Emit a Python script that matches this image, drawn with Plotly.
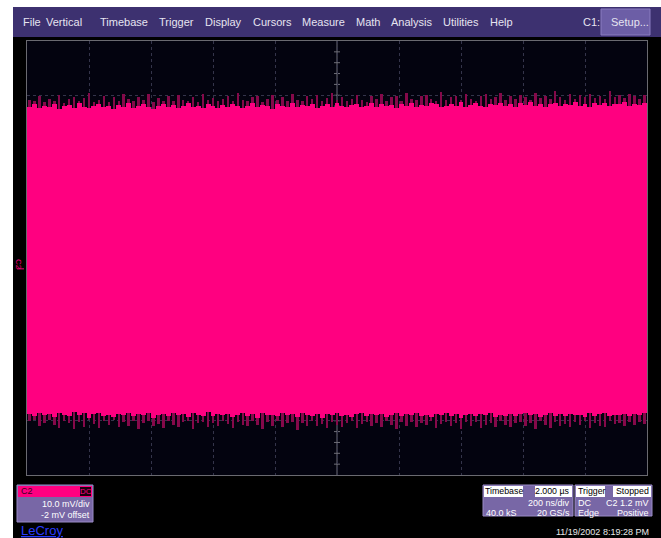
import plotly.graph_objects as go

# ---- acquisition: C2, 10 mV/div, -2 mV offset, 200 ns/div (2 us record) ----
COL_NS = 16  # time span covered by one display column

# bright (high-density) upper edge of the noise band, mV
top_core = [
    29.9, 30.3, 29.6, 30.1, 29.8, 30.4, 29.5, 30.0, 30.2, 29.7,
    30.5, 29.9, 29.6, 30.1, 30.3, 29.8, 30.0, 29.4, 30.2, 29.9,
    30.6, 29.7, 30.0, 30.3, 29.8, 29.5, 30.1, 30.4, 29.9, 30.2,
    29.6, 30.0, 30.5, 29.8, 30.1, 29.7, 30.3, 30.0, 29.6, 30.2,
    29.9, 30.4, 30.1, 29.7, 30.0, 30.6, 29.8, 30.2, 30.0, 29.5,
    30.3, 30.1, 29.9, 30.5, 29.8, 30.2, 30.0, 30.4, 29.7, 30.1,
    30.3, 29.9, 30.6, 30.0, 29.8, 30.2, 30.4, 29.9, 30.1, 30.5,
    29.8, 30.3, 30.0, 30.2, 29.7, 30.4, 30.1, 30.6, 29.9, 30.2,
    30.0, 30.5, 30.3, 29.8, 30.1, 30.4, 30.0, 30.7, 29.9, 30.2,
    30.5, 30.1, 29.8, 30.4, 30.2, 30.6, 30.0, 30.3, 29.9, 30.5,
    30.2, 30.7, 30.1, 30.4, 29.9, 30.3, 30.6, 30.0, 30.4, 30.2,
    30.8, 30.1, 30.3, 29.9, 30.5, 30.2, 30.6, 30.0, 30.4, 30.3,
    30.7, 30.1, 30.4, 30.2, 30.5,
]
# sparse positive peaks, mV
top_peak = [
    31.2, 30.9, 31.8, 30.7, 31.4, 31.0, 32.1, 30.6, 31.3, 31.7,
    30.9, 31.5, 32.4, 30.8, 31.1, 31.9, 30.7, 31.6, 31.0, 32.2,
    31.3, 30.9, 31.7, 31.1, 32.3, 30.8, 31.5, 31.0, 31.8, 30.9,
    32.0, 31.2, 31.0, 31.6, 30.8, 32.2, 31.1, 31.5, 30.9, 31.4,
    31.8, 31.0, 32.5, 31.2, 30.9, 31.6, 31.9, 30.8, 31.3, 32.0,
    31.1, 31.7, 30.9, 32.3, 31.2, 31.0, 31.8, 31.3, 32.1, 30.9,
    31.5, 32.4, 31.1, 31.7, 30.9, 31.4, 32.0, 31.2, 30.8, 31.9,
    31.3, 32.2, 31.0, 31.6, 31.9, 30.9, 32.4, 31.4, 31.1, 31.8,
    32.1, 31.3, 31.0, 32.6, 31.2, 31.7, 31.9, 31.1, 32.3, 31.4,
    31.0, 31.8, 32.2, 31.3, 31.6, 32.5, 31.1, 31.9, 31.4, 32.0,
    31.7, 31.2, 32.4, 31.5, 31.9, 31.3, 32.7, 31.6, 31.2, 32.2,
    31.4, 32.0, 31.7, 32.3, 31.5, 31.9, 31.4, 32.8, 31.6, 32.1,
    31.5, 32.3, 31.8, 31.4, 32.0,
]
# bright lower edge of the noise band, mV
bottom_core = [
    -26.8, -27.2, -26.5, -27.0, -26.7, -27.3, -26.6, -26.9, -27.1, -26.4,
    -27.0, -26.6, -27.4, -26.8, -26.5, -27.1, -26.9, -27.3, -26.7, -27.0,
    -26.5, -27.2, -26.8, -27.0, -26.6, -27.4, -26.9, -26.7, -27.1, -26.5,
    -27.0, -26.8, -27.3, -26.6, -26.9, -27.1, -26.4, -27.2, -26.8, -27.0,
    -26.7, -27.3, -26.9, -26.5, -27.1, -26.8, -27.4, -26.6, -27.0, -26.9,
    -27.2, -26.6, -27.0, -26.8, -27.3, -26.5, -26.9, -27.1, -26.7, -27.4,
    -26.8, -27.0, -26.6, -27.2, -26.9, -27.3, -26.7, -26.5, -27.1, -26.8,
    -27.0, -26.7, -27.3, -26.9, -26.6, -27.2, -26.8, -27.0, -26.5, -27.1,
    -26.9, -27.3, -26.7, -27.0, -26.6, -27.2, -26.8, -27.4, -26.9, -26.7,
    -27.1, -26.8, -27.0, -26.6, -27.3, -26.9, -27.1, -26.7, -27.2, -26.8,
    -26.6, -27.0, -26.8, -27.3, -26.9, -26.5, -27.1, -26.8, -27.2, -26.7,
    -27.0, -26.9, -27.3, -26.6, -27.1, -26.8, -26.5, -27.2, -26.9, -27.0,
    -26.7, -27.2, -26.8, -27.0, -26.6,
]
# sparse negative peaks, mV
bottom_peak = [
    -28.1, -27.8, -29.0, -28.4, -27.9, -28.7, -29.3, -28.0, -28.5, -29.6,
    -28.2, -29.1, -27.9, -28.6, -29.4, -28.0, -28.8, -27.9, -29.2, -28.3,
    -28.9, -28.0, -29.5, -28.4, -28.1, -29.0, -28.6, -29.3, -28.0, -28.7,
    -29.2, -28.3, -28.0, -29.6, -28.5, -28.2, -29.1, -28.4, -28.9, -28.1,
    -28.6, -29.4, -28.2, -28.8, -29.0, -28.1, -28.7, -29.5, -28.3, -28.9,
    -28.0, -29.2, -28.5, -28.3, -29.7, -28.4, -28.9, -28.1, -29.0, -28.6,
    -29.3, -28.2, -28.8, -29.1, -28.4, -28.0, -29.4, -28.6, -28.3, -29.0,
    -28.5, -29.2, -28.1, -28.7, -29.5, -28.3, -28.9, -28.2, -29.1, -28.4,
    -28.8, -28.1, -29.3, -28.6, -28.2, -29.0, -28.5, -29.6, -28.3, -28.9,
    -28.2, -29.4, -28.7, -28.4, -29.1, -28.0, -28.8, -29.2, -28.5, -28.3,
    -29.0, -28.4, -29.5, -28.1, -28.7, -29.3, -28.2, -28.9, -28.6, -29.1,
    -28.3, -28.8, -28.1, -29.4, -28.5, -28.9, -29.2, -28.0, -28.6, -28.4,
    -29.0, -28.3, -28.7, -28.2, -28.6,
]

menu_items = ["File", "Vertical", "Timebase", "Trigger", "Display", "Cursors",
              "Measure", "Math", "Analysis", "Utilities", "Help"]
menu_x = [21, 44, 98, 157, 203, 251, 300, 354, 389, 441, 488]

TRIG_LEVEL_MV = 1.2
OFFSET_MV = -2.0
VDIV_MV = 10.0
TDIV_NS = 200

n = min(len(top_core), len(top_peak), len(bottom_core), len(bottom_peak))
t = [COL_NS * (i + 0.5) for i in range(n)]
center_mv = -OFFSET_MV
y_lo, y_hi = center_mv - 4 * VDIV_MV, center_mv + 4 * VDIV_MV

PINK = "#ff0080"
DIM = "#85094a"
AXIS_GREY = "#6e6e78"
W, H = 661, 538
L, R, T, B = 27, 647, 41, 475
span_ns = 10 * TDIV_NS


def fx(p):
    return (p - L) / (R - L)


def fy(p):
    return (B - p) / (B - T)


fig = go.Figure()

# graticule centre cross with minor ticks, kept underneath the trace
fig.add_shape(type="line", x0=span_ns / 2, x1=span_ns / 2, y0=y_lo, y1=y_hi,
              line=dict(color=AXIS_GREY, width=1), layer="below")
fig.add_shape(type="line", x0=0, x1=span_ns, y0=center_mv, y1=center_mv,
              line=dict(color=AXIS_GREY, width=1), layer="below")
tick_half_ns = 3 / 0.31          # ~3 px in time units
tick_half_mv = 3 / 5.425         # ~3 px in voltage units
for k in range(1, 40):
    v = y_lo + k * VDIV_MV / 5
    fig.add_shape(type="line", x0=span_ns / 2 - tick_half_ns, x1=span_ns / 2 + tick_half_ns,
                  y0=v, y1=v, line=dict(color=AXIS_GREY, width=1), layer="below")
for k in range(1, 50):
    tt = k * TDIV_NS / 5
    fig.add_shape(type="line", x0=tt, x1=tt, y0=center_mv - tick_half_mv,
                  y1=center_mv + tick_half_mv,
                  line=dict(color=AXIS_GREY, width=1), layer="below")

# low-density excursions above and below the band
fig.add_trace(go.Bar(
    x=t, base=top_core[:n],
    y=[max(top_peak[i] - top_core[i], 0) for i in range(n)],
    width=COL_NS * 0.5, marker=dict(color=DIM, line=dict(width=0)),
    hoverinfo="skip", showlegend=False))
fig.add_trace(go.Bar(
    x=t, base=bottom_core[:n],
    y=[min(bottom_peak[i] - bottom_core[i], 0) for i in range(n)],
    width=COL_NS * 0.5, marker=dict(color=DIM, line=dict(width=0)),
    hoverinfo="skip", showlegend=False))
# dense body of the trace
fig.add_trace(go.Bar(
    x=t, base=bottom_core[:n],
    y=[top_core[i] - bottom_core[i] for i in range(n)],
    width=COL_NS, marker=dict(color=PINK, line=dict(width=0)),
    hoverinfo="skip", showlegend=False))

# trigger level and trigger position markers
fig.add_trace(go.Scatter(
    x=[span_ns + 14], y=[TRIG_LEVEL_MV], mode="markers", cliponaxis=False,
    marker=dict(symbol="triangle-left", size=7, color=PINK),
    hoverinfo="skip", showlegend=False))
fig.add_trace(go.Scatter(
    x=[span_ns + 10], y=[y_lo - 0.6], mode="markers", cliponaxis=False,
    marker=dict(symbol="triangle-right", size=5, color=PINK),
    hoverinfo="skip", showlegend=False))

shapes = []
# white border strips
shapes.append(dict(type="rect", xref="paper", yref="paper", x0=fx(0), x1=fx(13),
                   y0=fy(H), y1=fy(0), fillcolor="white", line=dict(width=0)))
shapes.append(dict(type="rect", xref="paper", yref="paper", x0=fx(0), x1=fx(W),
                   y0=fy(7), y1=fy(0), fillcolor="white", line=dict(width=0)))
# menu bar
shapes.append(dict(type="rect", xref="paper", yref="paper", x0=fx(13), x1=fx(W),
                   y0=fy(37), y1=fy(7), fillcolor="#3d3170", line=dict(width=0)))
shapes.append(dict(type="rect", xref="paper", yref="paper", x0=fx(601), x1=fx(650),
                   y0=fy(35), y1=fy(9), fillcolor="#6c5ea6",
                   line=dict(color="#8a7dc0", width=1)))
# ground marker tick
shapes.append(dict(type="line", xref="paper", yref="y", x0=fx(17), x1=fx(24),
                   y0=0, y1=0, line=dict(color=PINK, width=1)))

PANEL = "#7867a6"
# channel box
shapes.append(dict(type="rect", xref="paper", yref="paper", x0=fx(17), x1=fx(93),
                   y0=fy(522), y1=fy(485), fillcolor=PANEL,
                   line=dict(color="#9a8cc6", width=1)))
shapes.append(dict(type="rect", xref="paper", yref="paper", x0=fx(18), x1=fx(92),
                   y0=fy(497), y1=fy(486), fillcolor=PINK, line=dict(width=0)))
shapes.append(dict(type="rect", xref="paper", yref="paper", x0=fx(80), x1=fx(91),
                   y0=fy(496), y1=fy(487), fillcolor="#1a0010", line=dict(width=0)))
# timebase box
shapes.append(dict(type="rect", xref="paper", yref="paper", x0=fx(483), x1=fx(573),
                   y0=fy(516), y1=fy(485), fillcolor=PANEL,
                   line=dict(color="#9a8cc6", width=1)))
for a, b in [(484, 523), (535, 572)]:
    shapes.append(dict(type="rect", xref="paper", yref="paper", x0=fx(a), x1=fx(b),
                       y0=fy(497), y1=fy(486), fillcolor="white", line=dict(width=0)))
# trigger box
shapes.append(dict(type="rect", xref="paper", yref="paper", x0=fx(575), x1=fx(652),
                   y0=fy(516), y1=fy(485), fillcolor=PANEL,
                   line=dict(color="#9a8cc6", width=1)))
for a, b in [(576, 605), (613, 651)]:
    shapes.append(dict(type="rect", xref="paper", yref="paper", x0=fx(a), x1=fx(b),
                       y0=fy(497), y1=fy(486), fillcolor="white", line=dict(width=0)))

for s in shapes:
    fig.add_shape(**s)

FONT = "Liberation Sans, Arial, sans-serif"


def label(text, x, y, anchor="left", size=9, color="white", **kw):
    fig.add_annotation(text=text, xref="paper", yref="paper", x=fx(x), y=fy(y),
                       xanchor=anchor, yanchor="middle", showarrow=False,
                       font=dict(family=FONT, size=size, color=color), **kw)


for name, x in zip(menu_items, menu_x):
    label(name, x, 22, size=11, color="#e6e4f0")
label("C1:", 581, 22, size=11, color="#e6e4f0")
label("Setup...", 609, 22, size=11, color="#e6e4f0")

label("C2", 19, 264, anchor="center", size=8, color=PINK, textangle=90)

label("C2", 19, 491, size=9, color="#3a0020")
label("DC", 85.5, 491.5, anchor="center", size=8, color=PINK)
label(f"{VDIV_MV:.1f} mV/div", 92, 504, anchor="right")
label(f"{OFFSET_MV:.0f} mV offset", 92, 515, anchor="right")
label("<u>LeCroy</u>", 19, 530, size=13, color="#2a3cff")

label("Timebase", 483, 491, size=8.8, color="black")
label("2.000 µs", 572, 491, anchor="right", size=8.8, color="black")
label(f"{TDIV_NS} ns/div", 572, 503.5, anchor="right")
label("40.0 kS", 484, 513)
label("20 GS/s", 572, 513, anchor="right")

label("Trigger", 576, 491, size=8.8, color="black")
label("Stopped", 651, 491, anchor="right", size=8.8, color="black")
label("DC", 576, 503.5)
label(f"C2 {TRIG_LEVEL_MV} mV", 651, 503.5, anchor="right")
label("Edge", 576, 513)
label("Positive", 651, 513, anchor="right")
label("11/19/2002 8:19:28 PM", 651, 532, anchor="right", color="#e8e8e8")

grid = dict(showgrid=True, gridcolor="#34344a", griddash="dot", gridwidth=1,
            zeroline=False, showticklabels=False, ticks="",
            showline=True, mirror=True, linecolor="#6a6a70", linewidth=1,
            fixedrange=True)
fig.update_layout(
    width=W, height=H,
    margin=dict(l=L, r=W - R, t=T, b=H - B, pad=0),
    paper_bgcolor="black", plot_bgcolor="#03030f",
    barmode="overlay", bargap=0, showlegend=False,
    xaxis=dict(range=[0, span_ns], tick0=0, dtick=TDIV_NS, **grid),
    yaxis=dict(range=[y_lo, y_hi], tick0=center_mv, dtick=VDIV_MV, **grid),
)

fig.write_html("out.html")
